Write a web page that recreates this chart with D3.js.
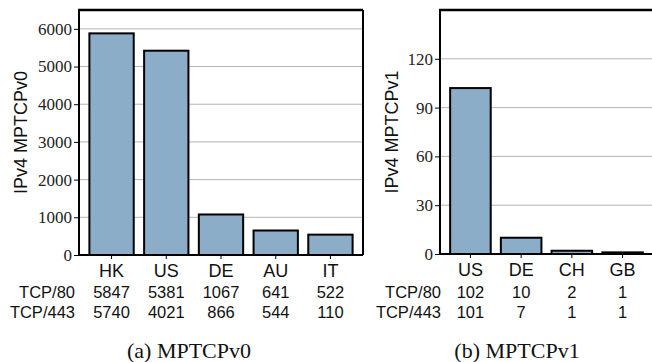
<!DOCTYPE html>
<html lang="en">
<head>
<meta charset="UTF-8">
<title>MPTCP bars</title>
<style>
    body { margin: 0; background: #fff; }
    svg { display: block; }
    .ynum { font-family: "Liberation Serif", "DejaVu Serif", serif !important; font-size: 17px; }
</style>
</head>
<body>
<svg id="chart" width="652" height="362"></svg>
<script src="https://d3js.org/d3.v7.min.js"></script>
<script>
// (a) MPTCPv0
const v0Countries = ["HK", "US", "DE", "AU", "IT"];
const v0Totals = [5880, 5420, 1075, 650, 540];
const v0Tcp80 = [5847, 5381, 1067, 641, 522];
const v0Tcp443 = [5740, 4021, 866, 544, 110];
const v0Ticks = [0, 1000, 2000, 3000, 4000, 5000, 6000];

// (b) MPTCPv1
const v1Countries = ["US", "DE", "CH", "GB"];
const v1Totals = [102, 10, 2, 1];
const v1Tcp80 = [102, 10, 2, 1];
const v1Tcp443 = [101, 7, 1, 1];
const v1Ticks = [0, 30, 60, 90, 120];

const rowLabels = ["TCP/80", "TCP/443"];

const SERIF = '"Liberation Serif", serif';
const SANS = '"Liberation Sans", sans-serif';

const svg = d3.select("#chart");

function panel(opt) {
    const g = svg.append("g");
    const x = d3.scaleBand().domain(opt.countries).range([opt.x0, opt.x1]).padding(opt.pad);
    const y = d3.scaleLinear().domain([0, opt.ymax]).range([opt.yBottom, opt.yTop]);

    // grid
    g.selectAll(".grid").data(opt.ticks.slice(1)).enter().append("line")
        .attr("x1", opt.x0).attr("x2", opt.gridEnd)
        .attr("y1", d => y(d)).attr("y2", d => y(d))
        .attr("stroke", "#b4b4b4").attr("stroke-width", 1);

    // bars
    g.selectAll(".bar").data(opt.countries).enter().append("rect")
        .attr("x", d => x(d))
        .attr("width", x.bandwidth())
        .attr("y", (d, i) => y(opt.totals[i]))
        .attr("height", (d, i) => y(0) - y(opt.totals[i]))
        .attr("fill", "#8badc8")
        .attr("stroke", "#000").attr("stroke-width", 2);

    // frame
    g.append("line").attr("x1", opt.x0).attr("x2", opt.x0)
        .attr("y1", opt.yTop).attr("y2", opt.yBottom).attr("stroke", "#000").attr("stroke-width", 2);
    g.append("line").attr("x1", opt.x0 - 1).attr("x2", opt.gridEnd)
        .attr("y1", opt.yTop).attr("y2", opt.yTop).attr("stroke", "#000").attr("stroke-width", 2.5);
    g.append("line").attr("x1", opt.x0 - 1).attr("x2", opt.gridEnd)
        .attr("y1", opt.yBottom).attr("y2", opt.yBottom).attr("stroke", "#000").attr("stroke-width", 2);
    if (opt.rightBorder) {
        g.append("line").attr("x1", opt.x1).attr("x2", opt.x1)
            .attr("y1", opt.yTop).attr("y2", opt.yBottom).attr("stroke", "#000").attr("stroke-width", 2);
    }

    // y axis
    const yAxis = g.append("g")
        .attr("transform", `translate(${opt.x0},0)`)
        .call(d3.axisLeft(y).tickValues(opt.ticks).tickFormat(d3.format("d")).tickSize(5).tickPadding(2));
    yAxis.select(".domain").remove();
    yAxis.selectAll("text").attr("class", "ynum")
        .style("font-family", SERIF).style("font-size", "17px").attr("fill", "#222");
    yAxis.selectAll("line").attr("stroke", "#000");

    // x axis
    const xAxis = g.append("g")
        .attr("transform", `translate(0,${opt.yBottom})`)
        .call(d3.axisBottom(x).tickSize(4).tickPadding(4));
    xAxis.select(".domain").remove();
    xAxis.selectAll("text").style("font-family", SANS).style("font-size", "18px")
        .attr("fill", "#111").attr("dy", "0.75em");
    xAxis.selectAll("line").attr("stroke", "#000");

    // y label
    g.append("text")
        .attr("transform", `translate(${opt.labelX},${(opt.yTop + opt.yBottom) / 2}) rotate(-90)`)
        .attr("text-anchor", "middle").attr("dy", "0.35em")
        .attr("font-family", SANS).attr("font-size", 18).attr("fill", "#111")
        .text(opt.ylabel);

    // table rows
    [opt.tcp80, opt.tcp443].forEach((row, r) => {
        const by = 298 + r * 20;
        g.append("text").attr("x", opt.rowLabelX).attr("y", by)
            .attr("text-anchor", "end").attr("font-family", SANS).attr("font-size", 16.5)
            .attr("fill", "#111").text(rowLabels[r]);
        g.selectAll(".cell" + r).data(row).enter().append("text")
            .attr("x", (d, i) => x(opt.countries[i]) + x.bandwidth() / 2)
            .attr("y", by).attr("text-anchor", "middle")
            .attr("font-family", SANS).attr("font-size", 16.5).attr("fill", "#111")
            .text(d => d);
    });

    g.append("text")
        .attr("x", opt.captionX).attr("y", 358).attr("text-anchor", "middle")
        .attr("font-family", SERIF).attr("font-size", 22).attr("fill", "#111")
        .text(opt.caption);
}

panel({
    countries: v0Countries, totals: v0Totals, tcp80: v0Tcp80, tcp443: v0Tcp443,
    ticks: v0Ticks, ymax: 6500, x0: 79, x1: 363, gridEnd: 363, pad: 0.19,
    yTop: 10, yBottom: 255, rightBorder: true, labelX: 21, rowLabelX: 75,
    ylabel: "IPv4 MPTCPv0", caption: "(a) MPTCPv0", captionX: 189
});

panel({
    countries: v1Countries, totals: v1Totals, tcp80: v1Tcp80, tcp443: v1Tcp443,
    ticks: v1Ticks, ymax: 150, x0: 440, x1: 653, gridEnd: 652, pad: 0.2,
    yTop: 10, yBottom: 254, rightBorder: false, labelX: 392, rowLabelX: 441,
    ylabel: "IPv4 MPTCPv1", caption: "(b) MPTCPv1", captionX: 517
});
</script>
</body>
</html>
